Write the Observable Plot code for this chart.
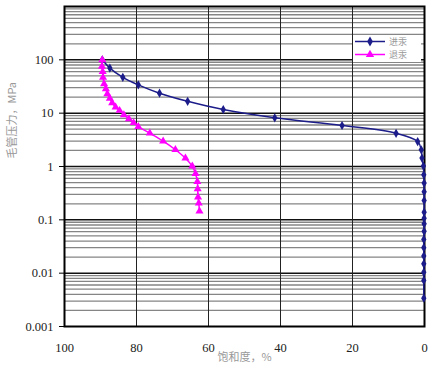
<!DOCTYPE html>
<html><head><meta charset="utf-8">
<script src="https://cdn.jsdelivr.net/npm/d3@7"></script>
<script src="https://cdn.jsdelivr.net/npm/@observablehq/plot@0.6"></script>
<style>
body{margin:0;background:#fff;}
#wrap{position:relative;width:442px;height:371px;}
#legend{position:absolute;left:353px;top:35px;width:68px;height:27px;background:#fff;}
#legend .row{position:relative;height:13px;}
#legend .row span{position:absolute;left:36px;top:0;font:9px 'Noto Sans CJK SC';color:#999;line-height:13px;}
</style>
</head><body><div id="wrap"></div>
<script>
const xTicks = [100, 80, 60, 40, 20, 0];
const yTicks = [0.001, 0.01, 0.1, 1, 10, 100];
const seriesNames = ["进汞", "退汞"];
const xLabel = "饱和度，%";
const yLabel = "毛管压力，MPa";

// 进汞 (intrusion)
const intrusionS = [89.5, 87.4, 83.8, 79.5, 73.6, 65.8, 55.9, 41.6, 22.9, 7.9, 1.9, 0.9, 0.7, 0.3, 0.2, 0.1, 0.1, 0.1, 0.1, 0.1, 0.1, 0.1, 0.2, 0.2, 0.2, 0.2, 0.2, 0.2, 0.2];
const intrusionP = [100, 70, 47, 34, 23.7, 16.7, 11.7, 8.2, 5.87, 4.2, 2.94, 2.06, 1.44, 1.02, 0.70, 0.49, 0.336, 0.23, 0.139, 0.107, 0.084, 0.061, 0.043, 0.030, 0.021, 0.015, 0.0104, 0.0073, 0.0034];
// 退汞 (withdrawal)
const withdrawalS = [89.5, 89.6, 89.4, 89.3, 89.0, 88.5, 88.1, 87.4, 86.75, 85.8, 84.7, 83.5, 82.1, 80.8, 79.5, 76.3, 72.6, 69.2, 66.4, 64.5, 63.6, 63.1, 63.0, 62.9, 62.7, 62.5];
const withdrawalP = [100, 75, 60, 47, 35.5, 28.6, 23, 19, 15.6, 12.9, 11.2, 9.3, 7.8, 6.6, 5.6, 4.2, 2.98, 2.06, 1.43, 1.01, 0.73, 0.52, 0.38, 0.265, 0.205, 0.145];

const blue = "#1c1c8a", pink = "#ff00ff";
const intrusion = intrusionS.map((s, i) => ({s, p: intrusionP[i]}));
const withdrawal = withdrawalS.map((s, i) => ({s, p: withdrawalP[i]}));

// minor log grid: 2..9 within each decade shown by the ticks
const minor = [];
for (const d of yTicks) for (let k = 2; k <= 9; k++) minor.push(d * k);
const majors = yTicks.slice(1);

const chart = Plot.plot({
  width: 442, height: 371,
  marginLeft: 64, marginRight: 18, marginTop: 6, marginBottom: 45,
  style: {fontFamily: "'Liberation Serif', serif", fontSize: "12.5px", color: "#222", background: "#fff"},
  x: {domain: [100, 0]},
  y: {type: "log", domain: [0.001, 1000]},
  marks: [
    Plot.ruleY(minor, {stroke: "#858585", strokeWidth: 1.3}),
    Plot.ruleY(majors, {stroke: "#111", strokeWidth: 1.5}),
    Plot.ruleX(xTicks.slice(1, -1), {stroke: "#222", strokeWidth: 1}),
    Plot.axisY({ticks: yTicks, tickFormat: d => String(d), tickSize: 5, tickPadding: 6, label: null, stroke: "#000"}),
    Plot.axisX({ticks: xTicks, tickSize: 0, tickPadding: 17, label: null}),
    Plot.text([xLabel], {frameAnchor: "bottom", dy: 34, fill: "#999", fontSize: 11, fontFamily: "'Noto Sans CJK SC'"}),
    Plot.text([yLabel], {frameAnchor: "left", rotate: -90, dx: -52, dy: -8, fill: "#999", fontSize: 11, fontFamily: "'Noto Sans CJK SC'"}),
    Plot.frame({stroke: "#000", strokeWidth: 2}),
    Plot.line(intrusion, {x: "s", y: "p", stroke: blue, strokeWidth: 1.5, curve: "catmull-rom"}),
    Plot.dot(intrusion, {x: "s", y: "p", fill: blue, symbol: "diamond", r: 2.8}),
    Plot.line(withdrawal, {x: "s", y: "p", stroke: pink, strokeWidth: 1.5, curve: "catmull-rom"}),
    Plot.dot(withdrawal, {x: "s", y: "p", fill: pink, symbol: "triangle", r: 3})
  ]
});
const wrap = document.getElementById("wrap");
wrap.appendChild(chart);

const legend = document.createElement("div");
legend.id = "legend";
const cols = [blue, pink];
const syms = [d3.symbolDiamond, d3.symbolTriangle];
legend.innerHTML = seriesNames.map((n, i) => {
  const sym = d3.symbol(syms[i], i === 0 ? 28 : 30)();
  return `<div class="row">
    <svg width="34" height="13" style="position:absolute;left:0;top:0;overflow:visible"><line x1="2" x2="32" y1="6.5" y2="6.5" stroke="${cols[i]}" stroke-width="1.5"/><path d="${sym}" transform="translate(17,6.5)" fill="${cols[i]}"/></svg>
    <span>${n}</span></div>`;
}).join("");
wrap.appendChild(legend);
</script></body></html>
